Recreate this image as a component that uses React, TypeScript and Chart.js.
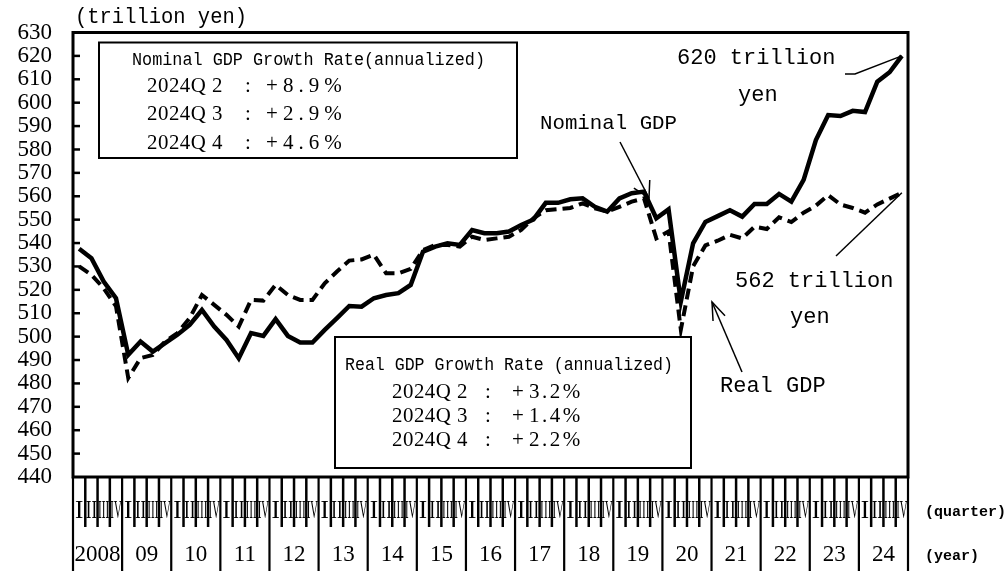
import React, { useEffect, useRef } from "react";
import { Chart, registerables } from "chart.js";

Chart.register(...registerables);

// ---- data ----
const yearLabels = ["2008", "09", "10", "11", "12", "13", "14", "15", "16", "17", "18", "19", "20", "21", "22", "23", "24"];
const quarterLabels = ["I", "II", "III", "IV"];
const categories = yearLabels.flatMap((_, yi) => quarterLabels.map((q) => `${2008 + yi}${q}`));

// Nominal GDP (trillion yen), 2008Q1 - 2024Q4
const nominalGDP = [
  537.6, 533.5, 523.5, 516.4,
  492.2, 497.9, 493.6, 497.2,
  500.8, 505.0, 511.4, 504.3,
  498.6, 490.8, 501.5, 500.3,
  507.5, 500.3, 497.5, 497.5,
  502.9, 507.9, 513.1, 512.8,
  516.4, 517.8, 518.6, 522.1,
  536.3, 538.5, 539.9, 539.2,
  545.6, 544.2, 544.2, 544.9,
  547.7, 550.1, 557.2, 557.2,
  558.7, 559.1, 555.5, 553.4,
  559.1, 561.3, 562.0, 550.6,
  554.4, 515.0, 539.9, 549.0,
  551.5, 554.0, 551.3, 556.7,
  556.7, 561.0, 557.7, 567.0,
  584.0, 594.7, 594.3, 596.5,
  596.0, 609.0, 613.0, 620.0,
];

// Real GDP (trillion yen), 2008Q1 - 2024Q4
const realGDP = [
  530.0, 526.4, 520.7, 513.0,
  482.3, 490.8, 492.2, 497.9,
  501.5, 507.9, 517.8, 513.6,
  509.3, 504.3, 515.7, 515.4,
  522.1, 517.8, 515.7, 515.7,
  522.8, 527.8, 532.5, 533.0,
  535.0, 527.1, 527.1, 529.0,
  537.0, 539.2, 539.2, 538.5,
  542.7, 541.3, 542.0, 542.7,
  545.6, 550.6, 554.0, 554.5,
  555.0, 557.0, 554.8, 553.4,
  555.5, 557.7, 559.1, 542.0,
  545.0, 503.0, 530.0, 539.0,
  541.0, 543.5, 542.0, 547.0,
  546.0, 551.0, 549.0, 553.0,
  556.0, 560.5, 556.5, 555.0,
  553.0, 556.5, 559.0, 561.5,
];

const yMin = 440;
const yMax = 630;
const yStep = 10;

const nominalBoxTitle = "Nominal GDP Growth Rate(annualized)";
const nominalBoxRows = [
  ["2024Q 2", "8.9%"],
  ["2024Q 3", "2.9%"],
  ["2024Q 4", "4.6%"],
];
const realBoxTitle = "Real GDP Growth Rate (annualized)";
const realBoxRows = [
  ["2024Q 2", "3.2%"],
  ["2024Q 3", "1.4%"],
  ["2024Q 4", "2.2%"],
];

const MONO = "'Liberation Mono', 'DejaVu Sans Mono', monospace";
const SERIF = "'Liberation Serif', 'DejaVu Serif', serif";

function drawText(
  ctx: CanvasRenderingContext2D,
  s: string,
  x: number,
  y: number,
  font: string,
  align: CanvasTextAlign = "left",
  maxWidth?: number,
  spacing = 0
) {
  ctx.save();
  ctx.font = font;
  ctx.fillStyle = "#000";
  ctx.textAlign = align;
  ctx.textBaseline = "middle";
  (ctx as any).letterSpacing = `${spacing}px`;
  if (maxWidth) ctx.fillText(s, x, y, maxWidth);
  else ctx.fillText(s, x, y);
  ctx.restore();
}

function line(ctx: CanvasRenderingContext2D, pts: number[][], w: number) {
  ctx.save();
  ctx.strokeStyle = "#000";
  ctx.lineWidth = w;
  ctx.beginPath();
  ctx.moveTo(pts[0][0], pts[0][1]);
  for (let i = 1; i < pts.length; i++) ctx.lineTo(pts[i][0], pts[i][1]);
  ctx.stroke();
  ctx.restore();
}

function arrow(ctx: CanvasRenderingContext2D, x1: number, y1: number, x2: number, y2: number, len: number, ang: number) {
  line(ctx, [[x1, y1], [x2, y2]], 1.5);
  const a = Math.atan2(y1 - y2, x1 - x2);
  line(
    ctx,
    [
      [x2 + len * Math.cos(a + ang), y2 + len * Math.sin(a + ang)],
      [x2, y2],
      [x2 + len * Math.cos(a - ang), y2 + len * Math.sin(a - ang)],
    ],
    1.5
  );
}

const decorPlugin = {
  id: "decor",
  beforeDraw(chart: any) {
    const ctx = chart.ctx;
    ctx.save();
    ctx.fillStyle = "#fff";
    ctx.fillRect(0, 0, chart.width, chart.height);
    ctx.restore();
  },
  afterDatasetsDraw(chart: any) {
    const ctx: CanvasRenderingContext2D = chart.ctx;
    const { left, right, top, bottom } = chart.chartArea;
    const xs = chart.scales.x;
    const ys = chart.scales.y;

    // frame
    ctx.save();
    ctx.strokeStyle = "#000";
    ctx.lineWidth = 3;
    ctx.strokeRect(left, top, right - left, bottom - top);
    ctx.restore();

    // inward y ticks
    for (let v = yMin + yStep; v < yMax; v += yStep) {
      const y = ys.getPixelForValue(v);
      line(ctx, [[left, y], [left + 7, y]], 2.5);
    }

    // x axis: quarter labels, tick lines, year labels
    const n = categories.length;
    const qw = (right - left) / n;
    for (let i = 0; i < n; i++) {
      const cx = xs.getPixelForValue(i);
      drawText(ctx, quarterLabels[i % 4], cx, 511, `25px ${SERIF}`, "center", qw - 1);
    }
    for (let i = 0; i <= n; i++) {
      const x = left + i * qw;
      if (i % 4 === 0) line(ctx, [[x, bottom], [x, 571]], 2.2);
      else line(ctx, [[x, bottom], [x, 527]], 2.5);
    }
    for (let yi = 0; yi < yearLabels.length; yi++) {
      const cx = left + (yi * 4 + 2) * qw;
      drawText(ctx, yearLabels[yi], cx, 555, `23px ${SERIF}`, "center", 4 * qw - 3);
    }
    drawText(ctx, "(quarter)", 925, 512, `bold 15px ${MONO}`, "left");
    drawText(ctx, "(year)", 925, 556, `bold 15px ${MONO}`, "left");

    // unit
    drawText(ctx, "(trillion yen)", 75, 17, `22px ${MONO}`, "left", 172);

    // Nominal box
    ctx.save();
    ctx.fillStyle = "#fff";
    ctx.fillRect(99, 42.5, 418, 115.5);
    ctx.strokeStyle = "#000";
    ctx.lineWidth = 2;
    ctx.strokeRect(99, 42.5, 418, 115.5);
    ctx.restore();
    drawText(ctx, nominalBoxTitle, 132, 60, `19px ${MONO}`, "left", 353);
    const nRowsY = [86, 114, 143];
    nominalBoxRows.forEach((r, k) => {
      drawText(ctx, r[0], 147, nRowsY[k], `21px ${SERIF}`, "left", 76, 0.5);
      drawText(ctx, ":", 248, nRowsY[k], `21px ${SERIF}`, "center");
      drawText(ctx, "+", 272, nRowsY[k], `21px ${SERIF}`, "center");
      drawText(ctx, r[1], 283, nRowsY[k], `21px ${SERIF}`, "left", undefined, 5);
    });

    // Real box
    ctx.save();
    ctx.fillStyle = "#fff";
    ctx.fillRect(335, 337, 356, 131);
    ctx.strokeStyle = "#000";
    ctx.lineWidth = 2;
    ctx.strokeRect(335, 337, 356, 131);
    ctx.restore();
    drawText(ctx, realBoxTitle, 345, 365, `19px ${MONO}`, "left", 328);
    const rRowsY = [392, 416, 440];
    realBoxRows.forEach((r, k) => {
      drawText(ctx, r[0], 392, rRowsY[k], `21px ${SERIF}`, "left", 76, 0.5);
      drawText(ctx, ":", 488, rRowsY[k], `21px ${SERIF}`, "center");
      drawText(ctx, "+", 518, rRowsY[k], `21px ${SERIF}`, "center");
      drawText(ctx, r[1], 529, rRowsY[k], `21px ${SERIF}`, "left", undefined, 2.5);
    });

    // Nominal GDP annotation
    drawText(ctx, "Nominal GDP", 540, 123, `21px ${MONO}`, "left", 137);
    arrow(ctx, 620, 142, 649, 198, 18, 0.52);

    // Real GDP annotation
    drawText(ctx, "Real GDP", 720, 386, `22px ${MONO}`, "left", 112);
    arrow(ctx, 742, 372, 712, 302, 19, 0.35);

    // 620 trillion yen
    const lastI = n - 1;
    const lx = xs.getPixelForValue(lastI);
    const ny = ys.getPixelForValue(nominalGDP[lastI]);
    drawText(ctx, "620 trillion", 677, 58, `22px ${MONO}`, "left", 160);
    drawText(ctx, "yen", 738, 95, `22px ${MONO}`, "left", 40);
    line(ctx, [[845, 74], [855, 74], [lx, ny]], 1.5);

    // 562 trillion yen
    const ry = ys.getPixelForValue(realGDP[lastI]);
    drawText(ctx, "562 trillion", 735, 281, `22px ${MONO}`, "left", 160);
    drawText(ctx, "yen", 790, 317, `22px ${MONO}`, "left", 40);
    line(ctx, [[lx, ry], [836, 256]], 1.5);
  },
};

export default function App() {
  const ref = useRef<HTMLCanvasElement | null>(null);
  useEffect(() => {
    document.body.style.margin = "0";
    document.body.style.overflow = "hidden";
    const canvas = ref.current!;
    const chart = new Chart(canvas, {
      type: "line",
      data: {
        labels: categories,
        datasets: [
          {
            label: "Real GDP",
            data: realGDP,
            borderColor: "#000",
            borderWidth: 4,
            borderDash: [11, 6],
            pointRadius: 0,
            tension: 0,
            fill: false,
          },
          {
            label: "Nominal GDP",
            data: nominalGDP,
            borderColor: "#000",
            borderWidth: 4.5,
            pointRadius: 0,
            tension: 0,
            fill: false,
          },
        ],
      },
      options: {
        animation: false,
        responsive: false,
        devicePixelRatio: 1,
        layout: { padding: { top: 32, right: 99, bottom: 94, left: 0 } },
        plugins: { legend: { display: false }, tooltip: { enabled: false } },
        scales: {
          x: {
            type: "category",
            display: false,
            offset: true,
          },
          y: {
            min: yMin,
            max: yMax,
            afterFit: (scale: any) => {
              scale.width = 73;
            },
            grid: { display: false, drawTicks: false },
            border: { display: false },
            ticks: {
              stepSize: yStep,
              autoSkip: false,
              padding: 21,
              color: "#000",
              font: { family: "Liberation Serif", size: 23, lineHeight: 1 },
            },
          },
        },
      },
      plugins: [decorPlugin],
    });
    return () => chart.destroy();
  }, []);
  return <canvas ref={ref} width={1007} height={571} style={{ display: "block" }} />;
}
